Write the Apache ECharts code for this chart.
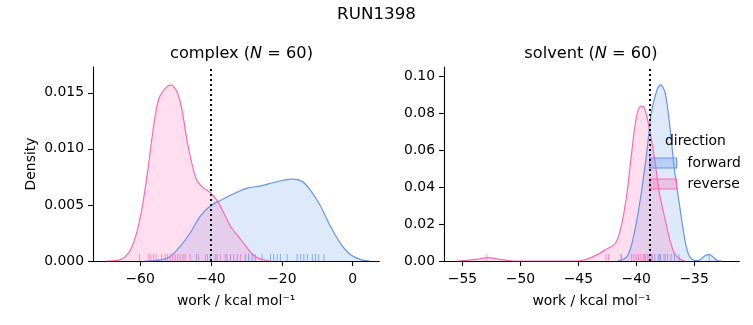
<!DOCTYPE html>
<html>
<head>
<meta charset="utf-8">
<script src="https://cdn.jsdelivr.net/npm/echarts@6/dist/echarts.min.js"></script>
<style>
  html, body { margin: 0; padding: 0; background: #fff; }
  #chart { width: 753px; height: 325px; }
</style>
</head>
<body>
<div id="chart"></div>
<script>
// KDE curves (x = work, y = density)
const complexFwdX = [-58.7, -54.3, -51.5, -48.7, -45.9, -43.0, -40.2, -37.4, -33.6, -29.8, -26.0, -22.3, -19.5, -17.1, -14.3, -11.9, -9.1, -6.3, -3.5, -0.8, 2.1, 4.9];
const complexFwdY = [0, 0.0001, 0.0004, 0.0013, 0.0025, 0.0040, 0.0049, 0.0054, 0.0060, 0.0065, 0.0067, 0.0070, 0.0072, 0.0073, 0.0071, 0.0063, 0.0049, 0.0031, 0.0016, 0.0006, 0.00015, 0];
const complexRevX = [-69.4, -65.7, -63.3, -61.9, -60.5, -59.1, -57.7, -56.2, -54.8, -52.9, -51.3, -49.6, -48.2, -46.8, -45.4, -44.0, -42.1, -40.2, -38.3, -36.4, -34.5, -32.6, -30.8, -28.9, -27.0, -25.1, -23.2];
const complexRevY = [0, 0.0001, 0.0007, 0.0016, 0.0031, 0.0054, 0.0084, 0.0120, 0.0144, 0.0154, 0.0157, 0.0151, 0.0135, 0.0108, 0.0087, 0.0072, 0.0065, 0.0061, 0.0054, 0.0043, 0.0031, 0.0023, 0.0016, 0.0008, 0.0003, 0.0001, 0];

const solventFwdX = [-41.6, -40.8, -40.3, -39.7, -39.1, -38.7, -38.2, -37.9, -37.5, -37.1, -36.7, -36.2, -35.8, -35.4, -34.9, -34.5, -34.1, -33.7, -33.4, -33.0, -32.6];
const solventFwdY = [0, 0.0024, 0.0114, 0.0313, 0.0584, 0.0801, 0.0928, 0.0955, 0.0910, 0.0729, 0.0494, 0.0277, 0.0114, 0.0024, 0.0002, 0.0005, 0.0027, 0.0036, 0.0024, 0.0002, 0];
const solventRevX = [-55.4, -53.8, -52.8, -51.8, -50.6, -48.0, -45.2, -44.3, -43.4, -42.6, -41.8, -41.3, -40.8, -40.4, -40.0, -39.6, -39.3, -38.9, -38.4, -38.0, -37.5, -37.1, -36.7, -36.2, -35.8];
const solventRevY = [0, 0.0009, 0.0018, 0.0009, 0, 0, 0, 0.0009, 0.0033, 0.0063, 0.0096, 0.0186, 0.0367, 0.0584, 0.0774, 0.0838, 0.0829, 0.0729, 0.0548, 0.0367, 0.0223, 0.0114, 0.0042, 0.0009, 0];

// rug marks (individual work values)
const complexFwdRug = [-44.1, -40.2, -38.3, -35.5, -34.5, -32.6, -30.3, -29.4, -28.4, -27.5, -25.6, -23.2, -22.3, -21.3, -20.4, -18.5, -15.7, -14.7, -13.8, -12.8, -11.4, -10.5, -9.6, -8.1];
const complexRevRug = [-60.2, -57.6, -57.0, -56.2, -55.5, -53.9, -52.9, -52.3, -51.5, -50.8, -50.1, -49.4, -48.7, -47.9, -47.3, -45.9, -43.5, -41.6, -41.0, -38.8, -37.4, -36.0, -34.5, -33.6, -31.7];
const solventFwdRug = [-41.3, -39.0, -38.7, -38.4, -38.1, -37.9, -37.6, -37.3, -37.0, -36.7, -36.3, -33.7];
const solventRevRug = [-52.9, -42.6, -42.4, -41.3, -40.4, -40.2, -40.0, -39.8, -39.6, -39.4, -39.3, -39.2, -38.9, -38.6, -38.0, -37.5];

// mean work (dotted line)
const complexMean = -40.0;
const solventMean = -38.8;

// tick labels
const complexXTicks = [-60, -40, -20, 0];
const complexYTicks = [0, 0.005, 0.010, 0.015];
const solventXTicks = [-55, -50, -45, -40, -35];
const solventYTicks = [0, 0.02, 0.04, 0.06, 0.08, 0.10];

const FONT = 'DejaVu Sans';
const BLUE = '#6495ED';
const PINK = '#FF69B4';
const BLUE_FILL = 'rgba(100,149,237,0.3)';
const PINK_FILL = 'rgba(255,105,180,0.3)';

const zip = (xs, ys) => xs.map((x, i) => [x, ys[i]]);
const minus = v => String(v).replace('-', '\u2212');

function xAxisFor(idx, min, max, ticks, name) {
  return {
    type: 'value', gridIndex: idx, min: min, max: max,
    name: name, nameLocation: 'middle', nameGap: 33,
    nameTextStyle: { color: '#000', fontFamily: FONT, fontSize: 13.9 },
    axisLine: { show: true, onZero: false, lineStyle: { color: '#000', width: 1.1 } },
    axisTick: { show: true, length: 5, customValues: ticks, lineStyle: { color: '#000', width: 1.1 } },
    axisLabel: { customValues: ticks, color: '#000', fontFamily: FONT, fontSize: 13.9, margin: 11,
      formatter: v => minus(v) },
    splitLine: { show: false }
  };
}
function yAxisFor(idx, max, ticks, digits, name) {
  return {
    type: 'value', gridIndex: idx, min: 0, max: max,
    name: name, nameLocation: 'middle', nameGap: 55, nameRotate: 90,
    nameTextStyle: { color: '#000', fontFamily: FONT, fontSize: 13.9 },
    axisLine: { show: true, onZero: false, lineStyle: { color: '#000', width: 1.1 } },
    axisTick: { show: true, length: 5, customValues: ticks, lineStyle: { color: '#000', width: 1.1 } },
    axisLabel: { customValues: ticks, color: '#000', fontFamily: FONT, fontSize: 13.9, margin: 9,
      formatter: v => v.toFixed(digits) },
    splitLine: { show: false }
  };
}
function kde(name, idx, data, color, fill, mean) {
  const s = {
    name: name, type: 'line', xAxisIndex: idx, yAxisIndex: idx,
    data: data, smooth: 0.3, showSymbol: false, symbol: 'none',
    lineStyle: { color: color, width: 1.2 },
    itemStyle: { color: color },
    areaStyle: { color: fill },
    z: 2
  };
  if (mean !== undefined) {
    s.markLine = {
      silent: true, symbol: 'none', animation: false,
      label: { show: false },
      lineStyle: { color: '#000', width: 2, type: [2, 3] },
      data: [{ xAxis: mean }],
      z: 5
    };
  }
  return s;
}
function rug(name, idx, xs, color) {
  return {
    name: name, type: 'scatter', xAxisIndex: idx, yAxisIndex: idx,
    data: xs.map(x => [x, 0]),
    symbol: 'rect', symbolSize: [1, 7], symbolOffset: [0, -3.5],
    itemStyle: { color: color, opacity: 0.7 },
    silent: true, z: 3
  };
}

const titleStyle = size => ({
  fontFamily: FONT, fontSize: size, fontWeight: 'normal', color: '#000',
  rich: { i: { fontFamily: FONT, fontSize: size, fontStyle: 'italic', color: '#000' } }
});

const chart = echarts.init(document.getElementById('chart'));
chart.setOption({
  animation: false,
  backgroundColor: '#fff',
  textStyle: { fontFamily: FONT },
  title: [
    { text: 'RUN1398', left: 376.5, top: 6, padding: 0, textAlign: 'center', textStyle: titleStyle(16.7) },
    { text: 'complex ({i|N} = 60)', left: 241.5, top: 46, padding: 0, textAlign: 'center', textStyle: titleStyle(16.2) },
    { text: 'solvent ({i|N} = 60)', left: 591, top: 46, padding: 0, textAlign: 'center', textStyle: titleStyle(16.2) },
    { text: 'direction', left: 665, top: 134, padding: 0, textStyle: titleStyle(13.9) }
  ],
  legend: {
    orient: 'vertical', left: 649, top: 156, padding: 0,
    itemWidth: 27, itemHeight: 10, itemGap: 7,
    textStyle: { fontFamily: FONT, fontSize: 13.9, color: '#000', padding: [0, 0, 0, 6] },
    data: [
      { name: 'forward', icon: 'rect', itemStyle: { color: BLUE_FILL, borderColor: BLUE, borderWidth: 1.2 } },
      { name: 'reverse', icon: 'rect', itemStyle: { color: PINK_FILL, borderColor: PINK, borderWidth: 1.2 } }
    ]
  },
  grid: [
    { left: 93, right: 373.7, top: 67, bottom: 64, outerBoundsMode: 'none' },
    { left: 444, right: 13.7, top: 67, bottom: 64, outerBoundsMode: 'none' }
  ],
  xAxis: [
    xAxisFor(0, -73.3, 7.5, complexXTicks, 'work / kcal mol\u207B\u00B9'),
    xAxisFor(1, -56.6, -31.1, solventXTicks, 'work / kcal mol\u207B\u00B9')
  ],
  yAxis: [
    yAxisFor(0, 0.0173, complexYTicks, 3, 'Density'),
    yAxisFor(1, 0.105, solventYTicks, 2, '')
  ],
  series: [
    kde('forward', 0, zip(complexFwdX, complexFwdY), BLUE, BLUE_FILL, complexMean),
    kde('reverse', 0, zip(complexRevX, complexRevY), PINK, PINK_FILL),
    rug('forward', 0, complexFwdRug, BLUE),
    rug('reverse', 0, complexRevRug, PINK),
    kde('forward', 1, zip(solventFwdX, solventFwdY), BLUE, BLUE_FILL, solventMean),
    kde('reverse', 1, zip(solventRevX, solventRevY), PINK, PINK_FILL),
    rug('forward', 1, solventFwdRug, BLUE),
    rug('reverse', 1, solventRevRug, PINK)
  ]
});
</script>
</body>
</html>
